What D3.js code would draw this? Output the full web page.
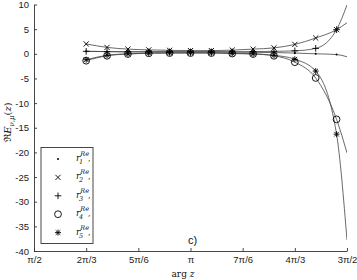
<!DOCTYPE html>
<html><head><meta charset="utf-8">
<script src="https://cdn.jsdelivr.net/npm/d3@7"></script>
<style>body{margin:0;background:#fff;} svg{display:block;}</style>
</head><body>
<svg id="c" width="357" height="280"></svg>
<script>
// ---- data ----
const PI = Math.PI;
const kIdx = [10,11,12,13,14,15,16,17,18,19,20,21,22]; // x = k*pi/15
const xEnd = 1.5 * PI;
const seriesNames = ["1","2","3","4","5"];
const s1 = [0.5,0.45,0.4,0.4,0.4,0.4,0.4,0.35,0.3,0.25,0.15,0.0,-0.15];
const s2 = [2.0,1.3,0.95,0.8,0.7,0.65,0.65,0.75,0.95,1.2,1.9,3.2,4.9];
const s3 = [0.5,0.45,0.4,0.4,0.4,0.4,0.4,0.4,0.45,0.5,0.6,1.1,4.9];
const s4 = [-1.4,-0.4,-0.05,0.1,0.15,0.15,0.15,0.05,-0.05,-0.4,-1.7,-4.9,-13.3];
const s5 = [-1.2,-0.3,0.0,0.15,0.2,0.2,0.2,0.1,0.0,-0.3,-1.1,-3.5,-16.3];
const endVals = [-0.6, 6.3, 9.9, -20.1, -37.8];
const markerTypes = ["dot","x","plus","circle","star"];
const xTickVals = [PI/2, 2*PI/3, 5*PI/6, PI, 7*PI/6, 4*PI/3, 3*PI/2];
const xTickLabels = ["π/2","2π/3","5π/6","π","7π/6","4π/3","3π/2"];
const yTickVals = [10,5,0,-5,-10,-15,-20,-25,-30,-35,-40];

// ---- chart ----
const svg = d3.select("#c");
const x = d3.scaleLinear().domain([PI/2, 3*PI/2]).range([34, 347]);
const y = d3.scaleLinear().domain([-40, 10]).range([251, 4.5]);
const axCol = "#333";

svg.append("defs").append("clipPath").attr("id","clip")
  .append("rect").attr("x",34).attr("y",4.5).attr("width",313).attr("height",246.5);

const allSeries = [s1,s2,s3,s4,s5];
const line = d3.line().x(d=>x(d[0])).y(d=>y(d[1])).curve(d3.curveMonotoneX);
const gLines = svg.append("g").attr("clip-path","url(#clip)");
allSeries.forEach((s,i)=>{
  const pts = kIdx.map((k,j)=>[k*PI/15, s[j]]);
  pts.push([xEnd, endVals[i]]);
  gLines.append("path").attr("d", line(pts)).attr("fill","none")
    .attr("stroke","#444").attr("stroke-width",0.8);
});

function drawMarker(g, type, cx, cy){
  const a = 2.6;
  if(type==="dot"){
    g.append("circle").attr("cx",cx).attr("cy",cy).attr("r",1).attr("fill","#000");
  } else if(type==="x"){
    g.append("path").attr("d",`M${cx-a},${cy-a}L${cx+a},${cy+a}M${cx-a},${cy+a}L${cx+a},${cy-a}`)
      .attr("stroke","#000").attr("stroke-width",0.9).attr("fill","none");
  } else if(type==="plus"){
    const b=3.3;
    g.append("path").attr("d",`M${cx-b},${cy}L${cx+b},${cy}M${cx},${cy-b}L${cx},${cy+b}`)
      .attr("stroke","#000").attr("stroke-width",0.9).attr("fill","none");
  } else if(type==="circle"){
    g.append("circle").attr("cx",cx).attr("cy",cy).attr("r",3.4)
      .attr("fill","none").attr("stroke","#000").attr("stroke-width",0.9);
  } else if(type==="star"){
    const b=3.0, c=2.3;
    g.append("path").attr("d",`M${cx-b},${cy}L${cx+b},${cy}M${cx},${cy-b}L${cx},${cy+b}M${cx-c},${cy-c}L${cx+c},${cy+c}M${cx-c},${cy+c}L${cx+c},${cy-c}`)
      .attr("stroke","#000").attr("stroke-width",0.9).attr("fill","none");
  }
}
const gM = svg.append("g");
allSeries.forEach((s,i)=>{
  kIdx.forEach((k,j)=>drawMarker(gM, markerTypes[i], x(k*PI/15), y(s[j])));
});

// axes
const xAxis = d3.axisBottom(x).tickValues(xTickVals).tickFormat((d,i)=>xTickLabels[i]).tickSizeInner(-3).tickSizeOuter(0).tickPadding(5);
const gx = svg.append("g").attr("transform","translate(0,251)").call(xAxis);
const yAxis = d3.axisLeft(y).tickValues(yTickVals).tickFormat(d=>String(d).replace("−","-")).tickSizeInner(-3).tickSizeOuter(0).tickPadding(5);
const gy = svg.append("g").attr("transform","translate(34,0)").call(yAxis);
[gx,gy].forEach(g=>{
  g.select(".domain").attr("stroke",axCol).attr("stroke-width",0.9);
  g.selectAll(".tick line").attr("stroke",axCol).attr("stroke-width",0.9);
  g.selectAll(".tick text").attr("fill","#222").attr("font-family","Liberation Sans, Arial, sans-serif").attr("font-size",9.5);
});

// axis labels
svg.append("text").attr("x",183).attr("y",277).attr("text-anchor","middle")
  .attr("font-family","DejaVu Serif, Liberation Serif, serif").attr("font-size",9).attr("fill","#111")
  .html('arg <tspan font-style="italic">z</tspan>');
const yl = svg.append("text").attr("transform","translate(11,122) rotate(-90)").attr("text-anchor","middle")
  .attr("font-family","DejaVu Serif, Liberation Serif, serif").attr("font-size",10).attr("fill","#111");
yl.append("tspan").text("ℜ");
yl.append("tspan").attr("font-style","italic").text("E");
yl.append("tspan").attr("font-style","italic").attr("font-size",7).attr("dy",2.5).text("ν,μ");
yl.append("tspan").attr("dy",-2.5).text("(");
yl.append("tspan").attr("font-style","italic").text("z");
yl.append("tspan").text(")");

// c)
svg.append("text").attr("x",188).attr("y",244).attr("font-family","Liberation Sans, Arial, sans-serif")
  .attr("font-size",11).attr("fill","#111").text("c)");

// legend
const lg = svg.append("g");
lg.append("rect").attr("x",41).attr("y",147.5).attr("width",52).attr("height",96)
  .attr("fill","#fff").attr("stroke","#333").attr("stroke-width",0.9);
seriesNames.forEach((n,i)=>{
  const yy = 159 + i*18.4;
  drawMarker(lg, markerTypes[i], 58, yy);
  const t = lg.append("text").attr("x",76).attr("y",yy+2).attr("font-family","DejaVu Serif, Liberation Serif, serif")
    .attr("font-size",9).attr("fill","#111").attr("font-style","italic");
  t.append("tspan").text("r");
  t.append("tspan").attr("font-size",6.5).attr("dy",-5).text("Re");
  t.append("tspan").attr("font-size",6.5).attr("x",79).attr("dy",8).text(n);
  t.append("tspan").attr("font-size",8).attr("x",88).attr("dy",-3).attr("font-style","normal").text(",");
});
</script>
</body></html>
